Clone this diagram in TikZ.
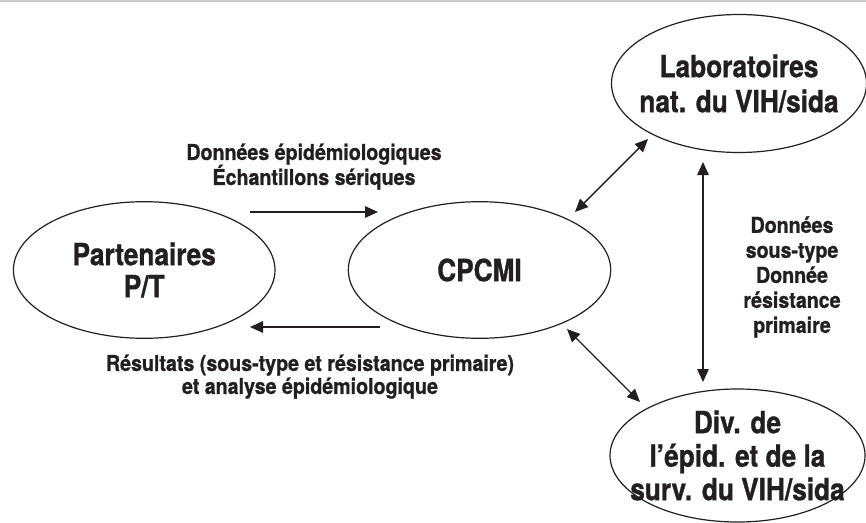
\documentclass[tikz,border=0pt]{standalone}
\usepackage{fontspec}
\setmainfont{TeX Gyre Heros}
\newfontfamily\lblfont[FakeStretch=0.9,FakeBold=1]{TeX Gyre Heros}
\newfontfamily\elfont[FakeStretch=0.86,FakeBold=1]{TeX Gyre Heros}
\usetikzlibrary{shapes.geometric,arrows.meta}
\definecolor{ink}{HTML}{231F20}
\definecolor{rulegray}{HTML}{CCCCCC}
\begin{document}
\begin{tikzpicture}[x=1pt,y=-1pt,
  ell/.style={draw=ink,ellipse,line width=1.2pt,inner sep=-25pt,text=ink,align=center},
  elfnt/.style={font={\elfont\bfseries\fontsize{30.5}{#1}\selectfont}},
  arr/.style={draw=ink,line width=1.4pt,-{Triangle[length=13pt,width=11.5pt]}},
  darr/.style={draw=ink,line width=1.4pt,{Triangle[length=13pt,width=11.5pt]}-{Triangle[length=13pt,width=11.5pt]}},
  lbl/.style={text=ink,align=center,inner sep=0pt},
  lblfnt/.style={font={\lblfont\bfseries\fontsize{21.8}{#1}\selectfont}}]
\useasboundingbox (0,0) rectangle (866,522);
\fill[white] (0,0) rectangle (866,522);
\draw[rulegray,line width=2pt] (0,1) -- (866,1);

\node[ell,elfnt=32,minimum width=261.6pt,minimum height=136.6pt] (pt) at (144.2,270) {Partenaires\\P/T};
\node[ell,elfnt=34,minimum width=262.4pt,minimum height=136.6pt] (cp) at (479.5,270) {CPCMI};
\node[ell,elfnt=35,minimum width=255pt,minimum height=138pt] (lab) at (739,83.5) {Laboratoires\\nat. du VIH/sida};
\node[ell,elfnt=33.5,minimum width=255pt,minimum height=133pt] (div) at (737.5,455.5) {Div. de\\l’épid. et de la\\surv. du VIH/sida};

\coordinate (a1) at (250,212);
\coordinate (a2) at (378,212);
\coordinate (b1) at (380,327);
\coordinate (b2) at (250,327);
\coordinate (c1) at (575,212);
\coordinate (c2) at (648,139);
\coordinate (d1) at (567,329);
\coordinate (d2) at (640,402);
\coordinate (e1) at (703,162);
\coordinate (e2) at (703,382);

\draw[arr] (a1) -- (a2);
\draw[arr] (b1) -- (b2);
\draw[darr] (c1) -- (c2);
\draw[darr] (d1) -- (d2);
\draw[darr] (e1) -- (e2);

\node[lbl,lblfnt=25] (l1) at (314,166.6) {Données épidémiologiques\\Échantillons sériques};
\node[lbl,lblfnt=23] (l2) at (310,376.6) {Résultats (sous-type et résistance primaire)\\et analyse épidémiologique};
\node[lbl,lblfnt=25] (l3) at (792,277) {Données\\sous-type\\Donnée\\résistance\\primaire};
\end{tikzpicture}
\end{document}
